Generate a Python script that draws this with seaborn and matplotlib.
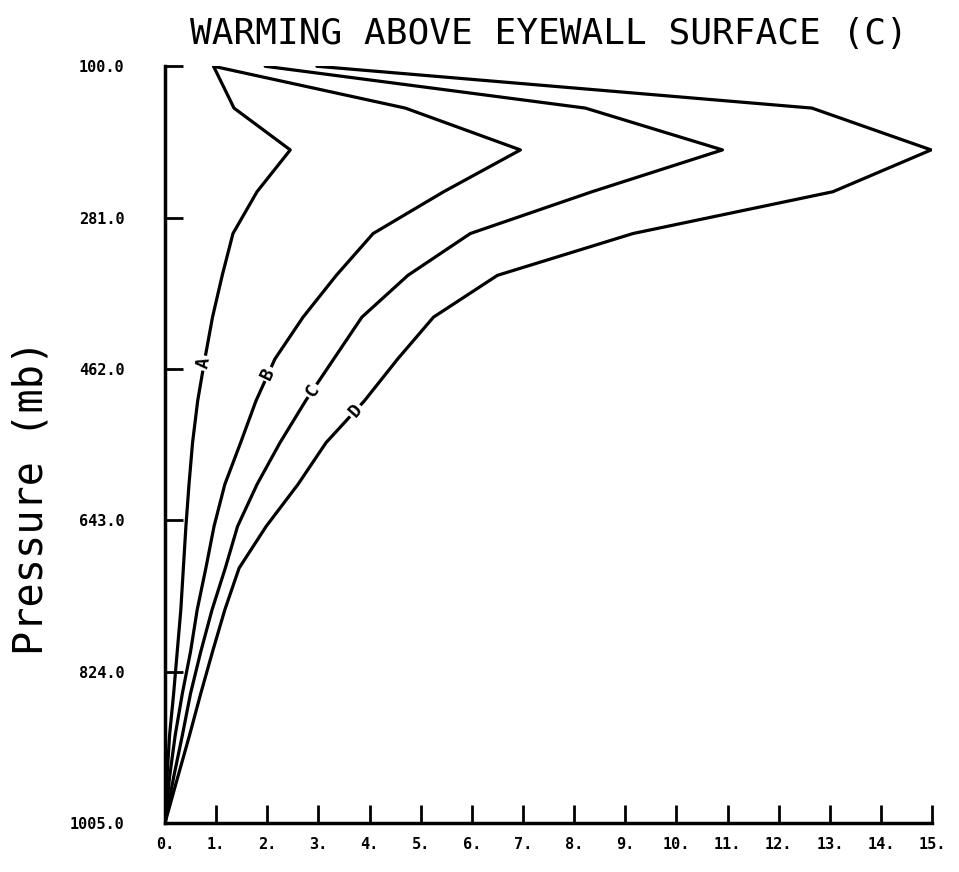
import numpy as np
import pandas as pd
import matplotlib
matplotlib.use('Agg')
import matplotlib.pyplot as plt
import seaborn as sns

# Niveles de presion (mb) y calentamiento (C) de cada curva
pressure = [100, 150, 200, 250, 300, 350, 400, 450, 500, 550,
            600, 650, 700, 750, 800, 850, 900, 950, 1005]
warming_a = [0.95, 1.35, 2.45, 1.80, 1.33, 1.12, 0.93, 0.78, 0.64, 0.54,
             0.47, 0.41, 0.36, 0.31, 0.24, 0.17, 0.09, 0.04, 0.0]
warming_b = [0.95, 4.70, 6.95, 5.45, 4.07, 3.35, 2.70, 2.15, 1.78, 1.48,
             1.17, 0.96, 0.80, 0.63, 0.50, 0.34, 0.20, 0.09, 0.0]
warming_c = [1.96, 8.22, 10.90, 8.35, 5.97, 4.75, 3.85, 3.30, 2.75, 2.25,
             1.80, 1.42, 1.18, 0.92, 0.70, 0.50, 0.34, 0.17, 0.0]
warming_d = [2.97, 12.65, 14.98, 13.06, 9.15, 6.50, 5.25, 4.55, 3.90, 3.15,
             2.60, 1.98, 1.45, 1.17, 0.93, 0.70, 0.48, 0.25, 0.0]
curve_names = ['A', 'B', 'C', 'D']
label_levels = [455, 468, 488, 512]   # presion donde va la etiqueta de cada curva

y_ticks = [100.0, 281.0, 462.0, 643.0, 824.0, 1005.0]
x_ticks = list(range(16))

sns.set_theme(style='white')
plt.rcParams['font.family'] = ['DejaVu Sans Mono', 'DejaVu Sans']
plt.rcParams['text.color'] = 'black'
plt.rcParams['axes.labelcolor'] = 'black'

df = pd.concat([
    pd.DataFrame({'pressure': pressure, 'warming': w, 'curve': name})
    for name, w in zip(curve_names, [warming_a, warming_b, warming_c, warming_d])
], ignore_index=True)

fig = plt.figure(figsize=(9.59, 8.72), dpi=100)
ax = fig.add_axes([0.172, 0.056, 0.8, 0.868])

sns.lineplot(data=df, x='warming', y='pressure', hue='curve',
             palette=['black'] * 4, sort=False, estimator=None,
             legend=False, linewidth=2.3, ax=ax)

ax.set_xlim(0, 15)
ax.set_ylim(1005, 100)

# Ejes estilo plotter: solo izquierda y abajo, ticks hacia dentro
for side in ['top', 'right']:
    ax.spines[side].set_visible(False)
for side in ['left', 'bottom']:
    ax.spines[side].set_linewidth(2.5)
    ax.spines[side].set_color('black')

ax.set_xticks(x_ticks)
ax.set_xticklabels([f'{t}.' for t in x_ticks])
ax.set_yticks(y_ticks)
ax.set_yticklabels([f'{t:.1f}' for t in y_ticks])
ax.tick_params(axis='both', direction='in', length=13, width=2, color='black',
               labelsize=11, labelcolor='black', left=True, bottom=True)
ax.tick_params(axis='x', pad=10)
ax.tick_params(axis='y', pad=29)
for lab in ax.get_xticklabels() + ax.get_yticklabels():
    lab.set_fontweight('bold')

ax.set_xlabel('')
ax.set_ylabel('Pressure (mb)', fontsize=29, color='black')
ax.yaxis.set_label_coords(-0.148, 0.43)
ax.set_title('WARMING ABOVE EYEWALL SURFACE (C)', fontsize=26, pad=16, color='black')

# Etiquetas sobre las curvas, giradas segun la pendiente local
for name, w, lev in zip(curve_names, [warming_a, warming_b, warming_c, warming_d], label_levels):
    x0 = np.interp(lev, pressure, w)
    x1 = np.interp(lev - 25, pressure, w)
    x2 = np.interp(lev + 25, pressure, w)
    p1 = ax.transData.transform((x1, lev - 25))
    p2 = ax.transData.transform((x2, lev + 25))
    ang = np.degrees(np.arctan2(p1[1] - p2[1], p1[0] - p2[0]))
    ax.text(x0, lev, name, rotation=ang, rotation_mode='anchor',
            ha='center', va='center', fontsize=13, fontweight='bold',
            bbox=dict(facecolor='white', edgecolor='none', pad=1.5))

plt.savefig('out.png', dpi=100, facecolor='white')
plt.close()
